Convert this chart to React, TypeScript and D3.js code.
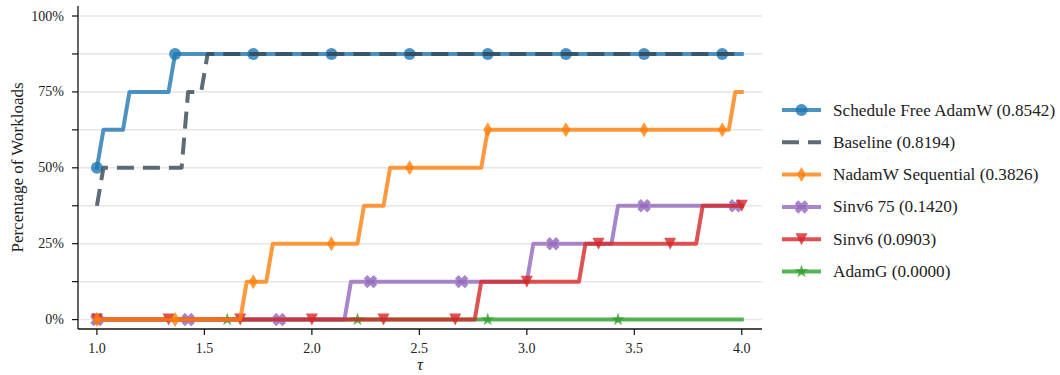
import React from "react";
import * as d3 from "d3";

// Performance profile: fraction of workloads solved within a factor tau of the best.
// Each array holds the performance ratio reached on each of the 8 workloads
// (Infinity = workload never reached).
const scheduleFreeRatios = [1.0, 1.0, 1.0, 1.0, 1.02, 1.14, 1.35, Infinity];
const baselineRatios = [1.0, 1.0, 1.0, 1.02, 1.41, 1.41, 1.5, Infinity];
const nadamwRatios = [1.68, 1.8, 2.23, 2.35, 2.8, 3.95, Infinity, Infinity];
const sinv675Ratios = [2.17, 3.02, 3.41, Infinity, Infinity, Infinity, Infinity, Infinity];
const sinv6Ratios = [2.77, 3.26, 3.8, Infinity, Infinity, Infinity, Infinity, Infinity];
const adamgRatios = [Infinity, Infinity, Infinity, Infinity, Infinity, Infinity, Infinity, Infinity];

const seriesNames = [
  "Schedule Free AdamW",
  "Baseline",
  "NadamW Sequential",
  "Sinv6 75",
  "Sinv6",
  "AdamG",
];
const seriesScores = ["0.8542", "0.8194", "0.3826", "0.1420", "0.0903", "0.0000"];

const xTicks = [1.0, 1.5, 2.0, 2.5, 3.0, 3.5, 4.0];
const yMajorTicks = [0, 0.25, 0.5, 0.75, 1.0];
const yMinorTicks = [0.125, 0.375, 0.625, 0.875];

const TAU_MIN = 1;
const TAU_MAX = 4;
const N_TAU = 100;

type Marker = "circle" | "none" | "thin_diamond" | "x_filled" | "triangle_down" | "star";

interface Series {
  name: string;
  score: string;
  ratios: number[];
  color: string;
  marker: Marker;
  markEvery: number;
  dash?: string;
}

const series: Series[] = [
  { name: seriesNames[0], score: seriesScores[0], ratios: scheduleFreeRatios, color: "#1f77b4", marker: "circle", markEvery: 12 },
  { name: seriesNames[1], score: seriesScores[1], ratios: baselineRatios, color: "#364756", marker: "none", markEvery: 0, dash: "17 9" },
  { name: seriesNames[2], score: seriesScores[2], ratios: nadamwRatios, color: "#ff7f0e", marker: "thin_diamond", markEvery: 12 },
  { name: seriesNames[3], score: seriesScores[3], ratios: sinv675Ratios, color: "#9467bd", marker: "x_filled", markEvery: 14 },
  { name: seriesNames[4], score: seriesScores[4], ratios: sinv6Ratios, color: "#d62728", marker: "triangle_down", markEvery: 11 },
  { name: seriesNames[5], score: seriesScores[5], ratios: adamgRatios, color: "#2ca02c", marker: "star", markEvery: 20 },
];

// drawing order, bottom to top
const drawOrder = [5, 3, 4, 2, 0, 1];

const ALPHA = 0.8;
const LINE_W = 4;
const FONT = "'Liberation Serif', 'Times New Roman', serif";

const tauGrid = d3.range(N_TAU).map((i) => TAU_MIN + ((TAU_MAX - TAU_MIN) * i) / (N_TAU - 1));

function profile(ratios: number[]): number[] {
  return tauGrid.map((t) => ratios.filter((r) => r <= t + 1e-9).length / ratios.length);
}

function markerPath(m: Marker): string {
  switch (m) {
    case "thin_diamond":
      return "M0,-7.5L4.5,0L0,7.5L-4.5,0Z";
    case "triangle_down":
      return "M-6,-6L6,-6L0,6Z";
    case "star":
      return d3.symbol(d3.symbolStar, 55)() as string;
    case "x_filled": {
      const L = 1, t = 0.36, s = 7;
      const plus = [
        [t, -L], [t, -t], [L, -t], [L, t], [t, t], [t, L],
        [-t, L], [-t, t], [-L, t], [-L, -t], [-t, -t], [-t, -L],
      ];
      const c = Math.SQRT1_2;
      const pts = plus.map(([x, y]) => [(x * c - y * c) * s, (x * c + y * c) * s]);
      return "M" + pts.map((p) => p[0].toFixed(2) + "," + p[1].toFixed(2)).join("L") + "Z";
    }
    default:
      return "";
  }
}

function MarkerShape({ m, x, y, color }: { m: Marker; x: number; y: number; color: string }) {
  if (m === "none") return null;
  if (m === "circle") {
    return <circle cx={x} cy={y} r={6} fill={color} fillOpacity={ALPHA} />;
  }
  return <path d={markerPath(m)} transform={`translate(${x},${y})`} fill={color} fillOpacity={ALPHA} />;
}

export default function App() {
  const width = 1060;
  const height = 375;
  const x = d3.scaleLinear().domain([0.912, 4.094]).range([78, 762]);
  const y = d3.scaleLinear().domain([-0.031, 1.033]).range([329, 6]);

  const line = d3
    .line<number>()
    .x((_, i) => x(tauGrid[i]))
    .y((d) => y(d));

  const gridTicks = [...yMajorTicks, ...yMinorTicks].sort((a, b) => a - b);
  const [x0, x1] = x.range();
  const [yBottom, yTop] = y.range();

  const legendX0 = 782;
  const legendX1 = 821;
  const legendTextX = 833;
  const legendY0 = 110;
  const legendDy = 32.3;

  return (
    <svg
      width={width}
      height={height}
      style={{ position: "absolute", left: 0, top: 0, background: "#fff" }}
      fontFamily={FONT}
    >
      {/* grid */}
      {gridTicks.map((t) => (
        <line key={"g" + t} x1={x0} x2={x1} y1={y(t)} y2={y(t)} stroke="#e6e6e6" strokeWidth={1.5} />
      ))}

      {/* series */}
      {drawOrder.map((si) => {
        const s = series[si];
        const vals = profile(s.ratios);
        const marks =
          s.marker === "none" ? [] : d3.range(0, N_TAU, s.markEvery);
        return (
          <g key={s.name}>
            <path
              d={line(vals) as string}
              fill="none"
              stroke={s.color}
              strokeOpacity={ALPHA}
              strokeWidth={LINE_W}
              strokeLinejoin="round"
              strokeLinecap={s.dash ? "butt" : "square"}
              strokeDasharray={s.dash}
            />
            {marks.map((i) => (
              <MarkerShape key={i} m={s.marker} x={x(tauGrid[i])} y={y(vals[i])} color={s.color} />
            ))}
          </g>
        );
      })}

      {/* axes */}
      <line x1={x0} x2={x0} y1={yTop} y2={yBottom} stroke="#111" strokeWidth={1.3} />
      <line x1={x0} x2={x1} y1={yBottom} y2={yBottom} stroke="#111" strokeWidth={1.3} />
      {gridTicks.map((t) => (
        <line key={"yt" + t} x1={x0 - 6} x2={x0} y1={y(t)} y2={y(t)} stroke="#111" strokeWidth={1.2} />
      ))}
      {yMajorTicks.map((t) => (
        <text
          key={"yl" + t}
          x={64}
          y={y(t)}
          textAnchor="end"
          dominantBaseline="central"
          fontSize={14}
          fill="#222"
        >
          {d3.format(".0%")(t)}
        </text>
      ))}
      {xTicks.map((t) => (
        <g key={"xt" + t}>
          <line x1={x(t)} x2={x(t)} y1={yBottom} y2={yBottom + 6} stroke="#111" strokeWidth={1.2} />
          <text
            x={x(t)}
            y={348}
            textAnchor="middle"
            dominantBaseline="central"
            fontSize={14}
            fill="#222"
          >
            {d3.format(".1f")(t)}
          </text>
        </g>
      ))}
      <text
        x={(x0 + x1) / 2}
        y={364}
        textAnchor="middle"
        dominantBaseline="central"
        fontSize={17}
        fontStyle="italic"
        fill="#222"
      >
        τ
      </text>
      <text
        transform={`translate(17,${(yTop + yBottom) / 2}) rotate(-90)`}
        textAnchor="middle"
        dominantBaseline="central"
        fontSize={17}
        fill="#222"
      >
        Percentage of Workloads
      </text>

      {/* legend */}
      {series.map((s, i) => {
        const ly = legendY0 + i * legendDy;
        return (
          <g key={"leg" + s.name}>
            <line
              x1={legendX0}
              x2={legendX1}
              y1={ly}
              y2={ly}
              stroke={s.color}
              strokeOpacity={ALPHA}
              strokeWidth={LINE_W}
              strokeLinecap="butt"
              strokeDasharray={s.dash}
            />
            <MarkerShape m={s.marker} x={(legendX0 + legendX1) / 2} y={ly} color={s.color} />
            <text x={legendTextX} y={ly} dominantBaseline="central" fontSize={17.2} fill="#222">
              {`${s.name} (${s.score})`}
            </text>
          </g>
        );
      })}
    </svg>
  );
}
